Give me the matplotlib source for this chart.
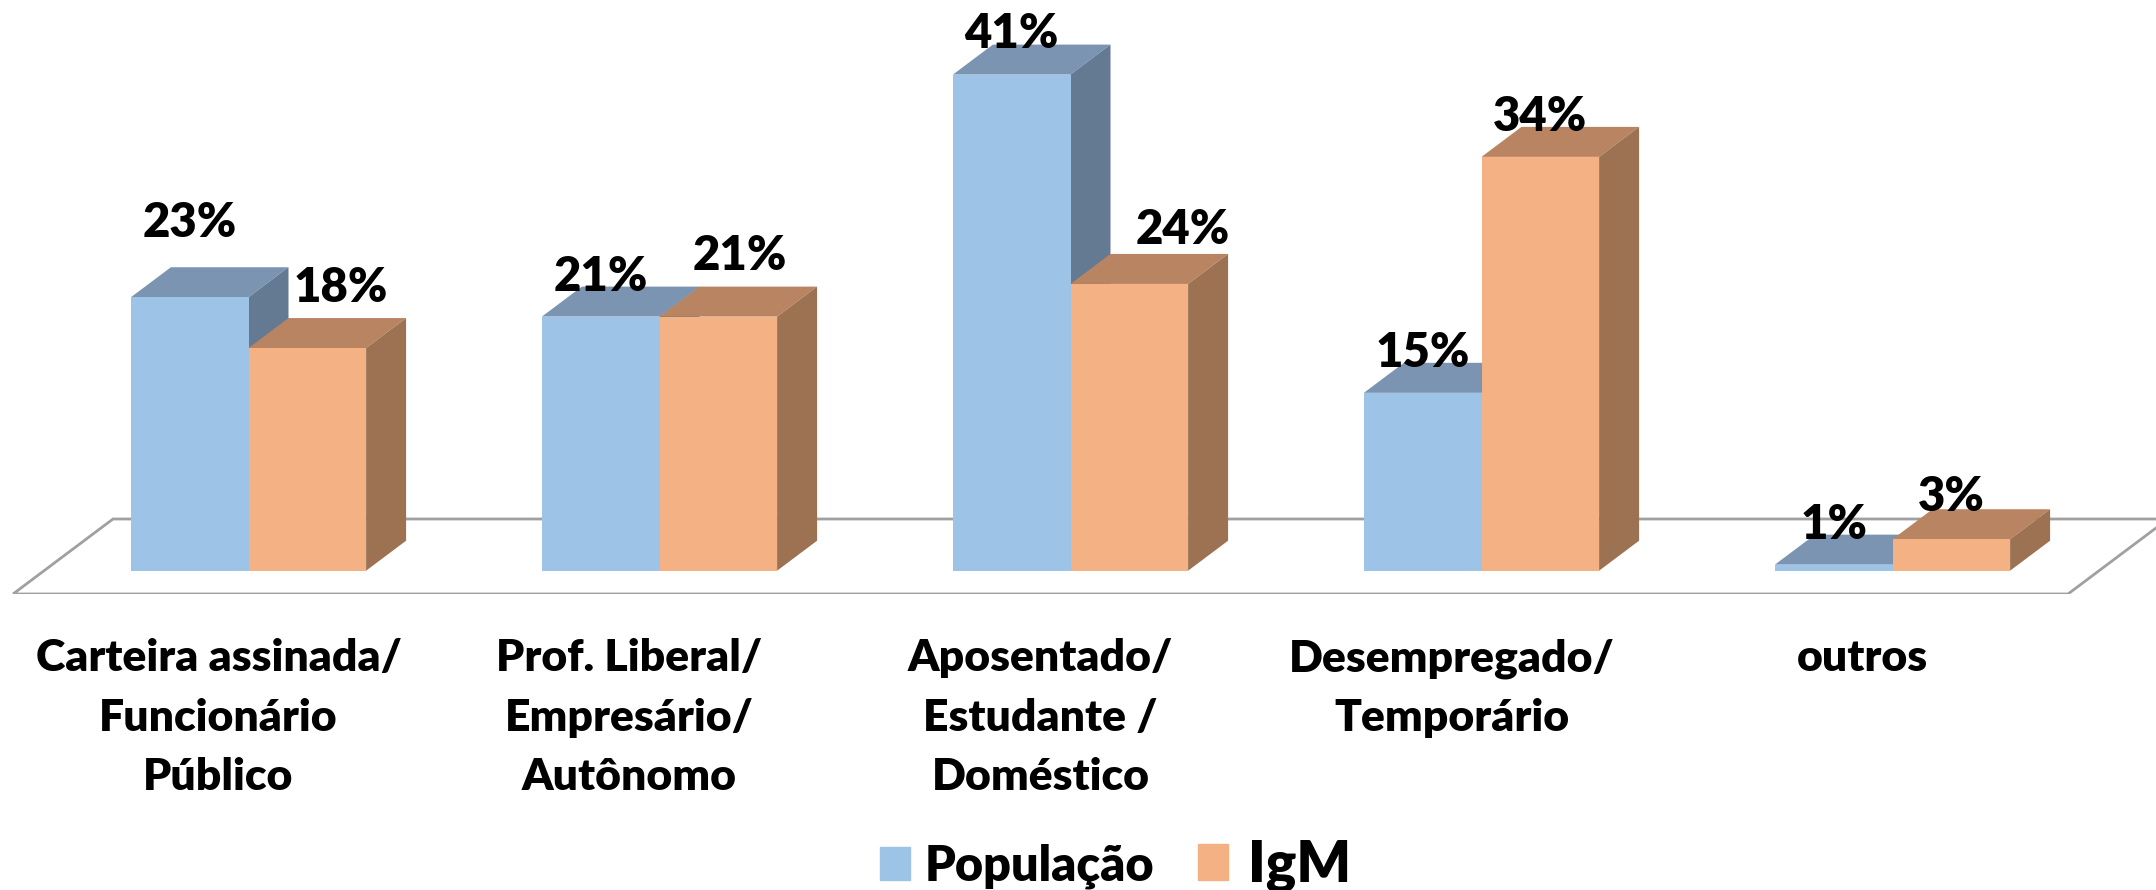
import numpy as np
import matplotlib.pyplot as plt
from matplotlib.patches import Patch, Polygon

plt.rcParams['font.family'] = ['Lato', 'DejaVu Sans']
plt.rcParams['font.weight'] = 'heavy'

categories = ["Carteira assinada/\nFuncionário\nPúblico",
              "Prof. Liberal/\nEmpresário/\nAutônomo",
              "Aposentado/\nEstudante /\nDoméstico",
              "Desempregado/\nTemporário",
              "outros"]
populacao = [22.6, 21.0, 41.0, 14.7, 0.5]
igm = [18.4, 21.0, 23.7, 34.2, 2.6]
populacao_labels = ["23%", "21%", "41%", "15%", "1%"]
igm_labels = ["18%", "21%", "24%", "34%", "3%"]

# label offsets in pixels from the top centre of each bar
pop_offsets = [(0, 74), (0, 40), (0, 41), (0, 40), (0, 40)]
igm_offsets = [(33, 60), (22, 61), (53, 54), (0, 40), (0, 42)]

blue = ["#9DC3E6", "#7A94B1", "#647A93"]  # front, top, side
orange = ["#F4B183", "#B98461", "#9C7252"]

W, H = 2156, 890
group_px = 411.0    # pixels per category
unit_px = 12.1      # pixels per percent
x0_px = 248.5       # first group centre
base_px = 570.7     # y pixel of value 0
floor_px = 594      # front edge of floor
width = 117.6 / group_px
dx = 40 / group_px  # 3d depth
dy = 30 / unit_px

fig = plt.figure(figsize=(W / 100, H / 100), dpi=100)
ax = fig.add_axes([0, (H - floor_px) / H, 1, floor_px / H])
ax.set_xlim(-x0_px / group_px, (W - x0_px) / group_px)
ax.set_ylim((base_px - floor_px) / unit_px, base_px / unit_px)
for s in ax.spines.values():
    s.set_visible(False)
ax.set_yticks([])

x = np.arange(len(categories))

# floor
fx0 = (13 - x0_px) / group_px
fx1 = (2068 - x0_px) / group_px
fy = (base_px - floor_px) / unit_px
ax.add_patch(Polygon([(fx0, fy), (fx1, fy), (fx1 + 2.5 * dx, fy + 2.5 * dy), (fx0 + 2.5 * dx, fy + 2.5 * dy)],
                     closed=True, fill=False, edgecolor="#A0A0A0", linewidth=2, clip_on=True, zorder=1))


def bars_3d(xs, values, colors, z):
    ax.bar(xs, values, width, color=colors[0], zorder=z + 0.2)
    for xi, v in zip(xs, values):
        l, r = xi - width / 2, xi + width / 2
        ax.add_patch(Polygon([(l, v), (r, v), (r + dx, v + dy), (l + dx, v + dy)],
                             color=colors[1], linewidth=0, zorder=z))
        ax.add_patch(Polygon([(r, 0), (r + dx, dy), (r + dx, v + dy), (r, v)],
                             color=colors[2], linewidth=0, zorder=z))


bars_3d(x - width / 2, populacao, blue, 2)
bars_3d(x + width / 2, igm, orange, 3)

for xi, v, t, off in zip(x - width / 2, populacao, populacao_labels, pop_offsets):
    ax.annotate(t, (xi, v), xytext=off, textcoords='offset pixels', ha='center', va='center',
                fontsize=34, color='black', zorder=10)
for xi, v, t, off in zip(x + width / 2, igm, igm_labels, igm_offsets):
    ax.annotate(t, (xi, v), xytext=off, textcoords='offset pixels', ha='center', va='center',
                fontsize=34, color='black', zorder=10)

ax.set_xticks(x - 30 / group_px)
ax.set_xticklabels(categories, fontsize=32, linespacing=1.58, color='black')
ax.tick_params(axis='x', length=0, pad=32)

# two legends since the entries have different font sizes and gaps
fig.legend([Patch(color=blue[0])], ["População"], loc='center left', bbox_to_anchor=(880 / W, 1 - 866 / H),
           frameon=False, fontsize=35, handlelength=0.62, handleheight=0.68,
           handletextpad=0.29, borderpad=0, borderaxespad=0)
fig.legend([Patch(color=orange[0])], ["IgM"], loc='center left', bbox_to_anchor=(1198 / W, 1 - 866 / H),
           frameon=False, fontsize=41, handlelength=0.53, handleheight=0.58,
           handletextpad=0.35, borderpad=0, borderaxespad=0)

fig.savefig("out.png", dpi=100)
plt.close()
